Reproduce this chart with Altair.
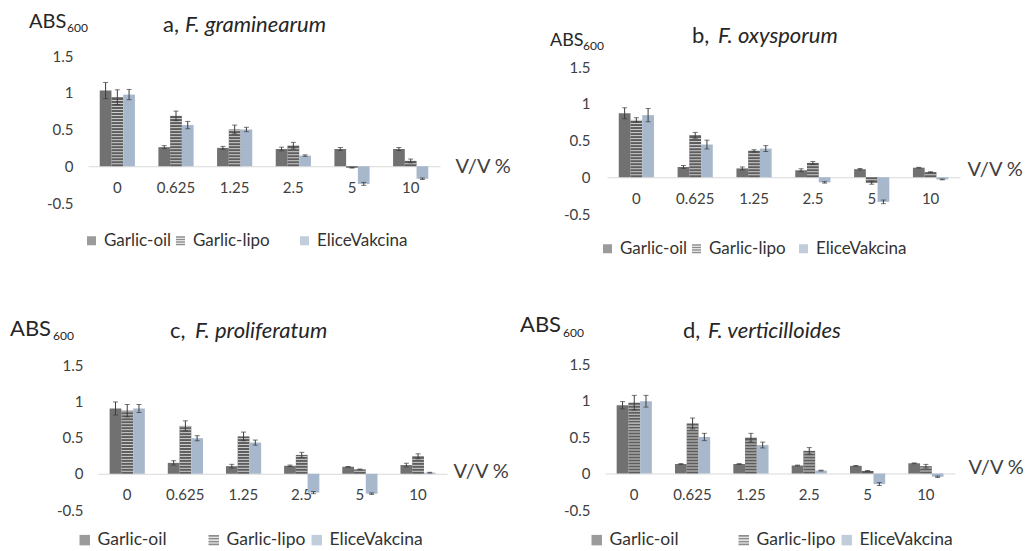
import altair as alt
import pandas as pd

concentrations = ["0", "0.625", "1.25", "2.5", "5", "10"]
treatments = ["Garlic-oil", "Garlic-lipo", "EliceVakcina"]
bar_colors = ["#717171", "#5d5d5d", "#a8b8cc"]
stripe_color = "#cdcdcd"
err_color = "#3c3c3c"
text_color = "#404040"
FONT = "Lato"
NBSP, ZWSP = "\u00a0", "\u200b"
# legend swatches: plain squares, and a hatched square for the liposome series
HATCHED_SQUARE = ("M-1,-1H1V-0.65H-1Z M-1,-0.45H1V-0.1H-1Z "
                  "M-1,0.1H1V0.45H-1Z M-1,0.65H1V1H-1Z")
legend_shapes = ["square", HATCHED_SQUARE, "square"]

panel_letters = ["a,", "b,", "c,", "d,"]
species_names = ["F. graminearum", "F. oxysporum", "F. proliferatum", "F. verticilloides"]
y_ticks = [-0.5, 0, 0.5, 1, 1.5]

# ABS600 means and error half-widths, per fungus panel
a_oil = [1.03, 0.26, 0.25, 0.235, 0.235, 0.235]
a_oil_err = [0.11, 0.02, 0.02, 0.025, 0.02, 0.02]
a_lipo = [0.94, 0.685, 0.50, 0.28, -0.02, 0.073]
a_lipo_err = [0.10, 0.065, 0.06, 0.045, 0.005, 0.025]
a_elice = [0.975, 0.56, 0.50, 0.145, -0.24, -0.17]
a_elice_err = [0.07, 0.05, 0.03, 0.01, 0.02, 0.01]

b_oil = [0.87, 0.14, 0.12, 0.095, 0.11, 0.13]
b_oil_err = [0.075, 0.02, 0.02, 0.02, 0.01, 0.005]
b_lipo = [0.78, 0.57, 0.36, 0.195, -0.075, 0.07]
b_lipo_err = [0.03, 0.04, 0.015, 0.02, 0.02, 0.005]
b_elice = [0.845, 0.445, 0.39, -0.07, -0.335, -0.03]
b_elice_err = [0.09, 0.06, 0.04, 0.01, 0.025, 0.005]

c_oil = [0.90, 0.15, 0.105, 0.11, 0.095, 0.12]
c_oil_err = [0.09, 0.03, 0.025, 0.01, 0.005, 0.025]
c_lipo = [0.87, 0.66, 0.515, 0.26, 0.06, 0.24]
c_lipo_err = [0.085, 0.07, 0.06, 0.035, 0.005, 0.035]
c_elice = [0.90, 0.49, 0.43, -0.26, -0.275, 0.015]
c_elice_err = [0.055, 0.035, 0.035, 0.015, 0.01, 0.005]

d_oil = [0.935, 0.13, 0.13, 0.11, 0.105, 0.14]
d_oil_err = [0.05, 0.005, 0.005, 0.005, 0.005, 0.005]
d_lipo = [0.97, 0.685, 0.49, 0.31, 0.035, 0.10]
d_lipo_err = [0.10, 0.075, 0.06, 0.045, 0.005, 0.025]
d_elice = [0.99, 0.50, 0.39, 0.04, -0.145, -0.045]
d_elice_err = [0.08, 0.05, 0.04, 0.005, 0.02, 0.01]

panel_series = [
    [(a_oil, a_oil_err), (a_lipo, a_lipo_err), (a_elice, a_elice_err)],
    [(b_oil, b_oil_err), (b_lipo, b_lipo_err), (b_elice, b_elice_err)],
    [(c_oil, c_oil_err), (c_lipo, c_lipo_err), (c_elice, c_elice_err)],
    [(d_oil, d_oil_err), (d_lipo, d_lipo_err), (d_elice, d_elice_err)],
]

# panel geometry (pixels, relative to each panel's plot group)
PANEL_W, PANEL_H = 352, 160
COL_GAP, ROW_STEP = 165, 308
layouts = [
    dict(xr=[0, 352], yr=[147, 0], ylp=15, abs_xy=(-59, -28, 20), sub_xy=(-21, -24, 12),
         title_xy=(75, -24), italic_dx=22, vv=(367, 0),
         leg=dict(x=-5, y=176, size=17, sym=81, colpad=0, pad={"Garlic-lipo": 6})),
    dict(xr=[2, 355], yr=[158, 11], ylp=15, abs_xy=(-55, -10, 18), sub_xy=(-22, -6, 12),
         title_xy=(87, -13), italic_dx=26, vv=(362, -8),
         leg=dict(x=-6, y=184, size=17, sym=81, colpad=0, pad={"Garlic-lipo": 2})),
    dict(xr=[10, 359], yr=[146, 1], ylp=5, abs_xy=(-78, -28, 22), sub_xy=(-35, -24, 12),
         title_xy=(82, -26), italic_dx=25, vv=(365, -2),
         leg=dict(x=-12, y=167, size=17.5, sym=110, colpad=2, pad={"Garlic-oil": 8})),
    dict(xr=[0, 350], yr=[146, 0], ylp=15, abs_xy=(-85, -32, 22), sub_xy=(-42, -27, 12),
         title_xy=(78, -26), italic_dx=25, vv=(363, -6),
         leg=dict(x=-17, y=167, size=17.5, sym=110, colpad=2, pad={"Garlic-oil": 12})),
]


def panel_frame(series_pairs):
    rows = []
    for name, (vals, errs) in zip(treatments, series_pairs):
        for conc, v, e in zip(concentrations, vals, errs):
            rows.append({"conc": conc, "series": name, "value": v,
                         "lo": v - e, "hi": v + e})
    return pd.DataFrame(rows)


def make_panel(idx):
    lay = layouts[idx]
    df = panel_frame(panel_series[idx])
    r0, r1 = lay["yr"]
    zero_px = r0 + 0.25 * (r1 - r0)

    x_axis = alt.Axis(
        title="V/V %", labelAngle=0, domain=True, domainColor="#d9d9d9", domainWidth=1.2,
        ticks=False, tickSize=0, grid=False, labelPadding=14, labelFontSize=15,
        labelFont=FONT, labelColor=text_color, offset=-(PANEL_H - zero_px),
        titleX=lay["vv"][0], titleY=lay["vv"][1], titleAlign="left",
        titleBaseline="middle", titleAngle=0, titleFontSize=20, titleFont=FONT,
        titleFontWeight="normal", titleColor=text_color,
    )
    y_axis = alt.Axis(
        title=None, values=y_ticks, labelExpr="'' + datum.value", domain=False,
        ticks=False, tickSize=0, grid=False, labelPadding=lay["ylp"], labelFontSize=15,
        labelFont=FONT, labelColor=text_color,
    )
    x_enc = alt.X("conc:N", sort=concentrations, axis=x_axis,
                  scale=alt.Scale(range=lay["xr"], paddingInner=0.4, paddingOuter=0.2))
    xo_enc = alt.XOffset("series:N", sort=treatments,
                         scale=alt.Scale(domain=treatments, paddingInner=0, paddingOuter=0))

    def y_enc(field):
        return alt.Y(field, axis=y_axis,
                     scale=alt.Scale(domain=[-0.5, 1.5], range=lay["yr"], nice=False, zero=False))

    # legend labels get trailing spacing so the entries sit apart unevenly
    leg = lay["leg"]
    pad_cases = " ".join(
        f"datum.label == '{k}' ? datum.label + '{NBSP * n}{ZWSP}' :" for k, n in leg["pad"].items()
    )
    legend = alt.Legend(
        orient="none", legendX=leg["x"], legendY=leg["y"], direction="horizontal",
        title=None, symbolSize=leg["sym"], symbolStrokeWidth=0,
        labelFontSize=leg["size"], labelFont=FONT, labelColor="#333333",
        labelOffset=4, columnPadding=leg["colpad"], padding=0,
        labelExpr=f"{pad_cases} datum.label", labelLimit=400,
    )
    color_enc = alt.Color("series:N", legend=legend,
                          scale=alt.Scale(domain=treatments, range=bar_colors))
    shape_enc = alt.Shape("series:N", legend=legend,
                          scale=alt.Scale(domain=treatments, range=legend_shapes))

    base = alt.Chart(df)
    bars = base.mark_bar().encode(
        x=x_enc, xOffset=xo_enc, y=y_enc("value:Q"), color=color_enc,
    )
    # zero-size points that carry the shape channel for the legend swatches
    swatch_keys = base.mark_point(filled=True, size=0).encode(
        x=x_enc, xOffset=xo_enc, y=y_enc("value:Q"), color=color_enc, shape=shape_enc,
    )
    # horizontal hatching on the Garlic-lipo bars
    stripes = base.transform_filter(
        "datum.series == 'Garlic-lipo'"
    ).transform_calculate(
        steps="sequence(0, abs(datum.value) - 0.040, 0.041)"
    ).transform_flatten(["steps"]).transform_calculate(
        s_lo="(datum.value < 0 ? -1 : 1) * (datum.steps + 0.027)",
        s_hi="(datum.value < 0 ? -1 : 1) * (datum.steps + 0.041)",
    ).mark_bar(color=stripe_color).encode(
        x=x_enc, xOffset=xo_enc, y=y_enc("s_lo:Q"), y2="s_hi:Q",
    )
    whiskers = base.mark_rule(color=err_color, strokeWidth=1).encode(
        x=x_enc, xOffset=xo_enc, y=y_enc("lo:Q"), y2="hi:Q",
    )
    caps = base.transform_fold(["lo", "hi"], as_=["end", "cap"]).mark_tick(
        orient="horizontal", size=5, thickness=1, color=err_color
    ).encode(x=x_enc, xOffset=xo_enc, y=y_enc("cap:Q"))

    ax, ay, afs = lay["abs_xy"]
    sx, sy, sfs = lay["sub_xy"]
    tx, ty = lay["title_xy"]

    def label(text, px, py, size, style="normal", color="#262626"):
        return alt.Chart(pd.DataFrame({"t": [text]})).mark_text(
            align="left", baseline="alphabetic", font=FONT, fontSize=size,
            fontStyle=style, color=color,
        ).encode(text="t:N", x=alt.value(px), y=alt.value(py))

    headers = [
        label("ABS", ax, ay, afs),
        label("600", sx, sy, sfs),
        label(panel_letters[idx], tx, ty, 22),
        label(species_names[idx], tx + lay["italic_dx"], ty, 22, style="italic"),
    ]

    return alt.layer(bars, swatch_keys, stripes, whiskers, caps, *headers).properties(
        width=PANEL_W, height=PANEL_H
    )


panels = [make_panel(i) for i in range(4)]


def independent_keys(ch):
    return ch.resolve_scale(color="independent", shape="independent").resolve_legend(
        color="independent", shape="independent")


top_row = independent_keys(alt.hconcat(panels[0], panels[1], spacing=COL_GAP, bounds="flush"))
bottom_row = independent_keys(alt.hconcat(panels[2], panels[3], spacing=COL_GAP, bounds="flush"))

chart = independent_keys(
    alt.vconcat(top_row, bottom_row, spacing=ROW_STEP, bounds="flush")
).properties(
    padding={"left": 10, "top": 12, "right": 5, "bottom": 5},
    background="white",
).configure_view(stroke=None)

chart.save("out.html", embed_options={"renderer": "svg", "actions": False})
